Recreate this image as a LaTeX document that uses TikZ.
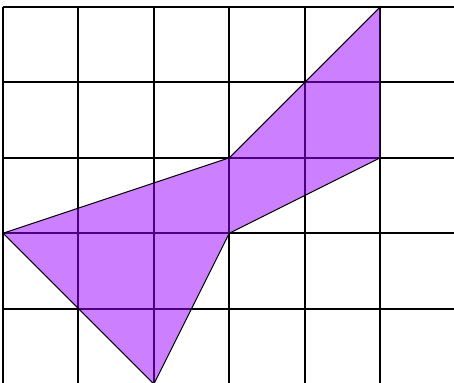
\documentclass[tikz,border=0pt]{standalone}
\definecolor{shapefill}{RGB}{153,0,255}
\begin{document}
\begin{tikzpicture}[
  gridline/.style={black, line width=0.75pt},
  polyshape/.style={draw=black, line width=0.4pt, fill=shapefill, fill opacity=0.5}
]
\useasboundingbox (-0.04,0.0265) rectangle (5.98,5.093);
\begin{scope}
\clip (-0.04,0.0265) rectangle (5.98,5.093);
\foreach \x in {0,...,6} \draw[gridline] (\x,-0.5) -- (\x,5);
\foreach \y in {0,...,5} \draw[gridline] (0,\y) -- (6.5,\y);
\coordinate (a) at (0,2);
\coordinate (b) at (3,3);
\coordinate (c) at (5,5);
\coordinate (d) at (5,3);
\coordinate (e) at (3,2);
\coordinate (f) at (2,0);
\draw[polyshape] (a) -- (b) -- (c) -- (d) -- (e) -- (f) -- cycle;
\end{scope}
\end{tikzpicture}
\end{document}
